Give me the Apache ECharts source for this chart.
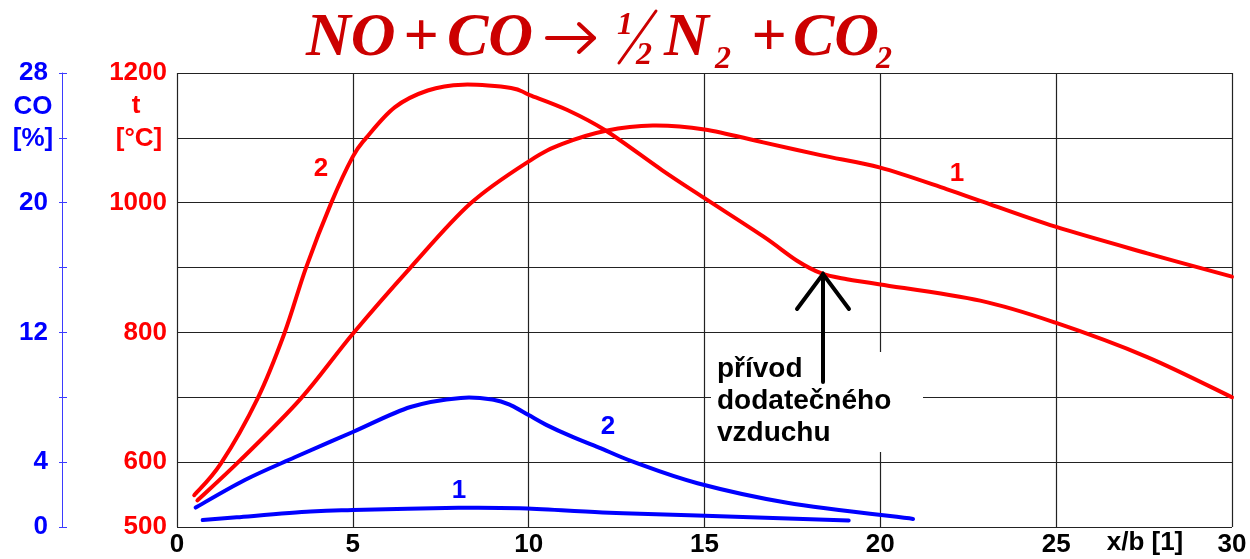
<!DOCTYPE html>
<html>
<head>
<meta charset="utf-8">
<title>NO + CO</title>
<script src="https://cdn.jsdelivr.net/npm/echarts@6/dist/echarts.min.js"></script>
<style>
  html, body { margin: 0; padding: 0; background: #fff; }
  #chart { width: 1250px; height: 559px; }
</style>
</head>
<body>
<div id="chart"></div>
<script>
// teplota t [°C] - krivka 1
const xT1 = [0.58, 1.8, 3.52, 5.0, 6.64, 8.35, 10.04, 10.98, 12.2, 13.53, 15.0, 16.67, 18.33, 20.0, 21.88, 22.84, 24.98, 27.59, 30.0];
const tT1 = [541, 603, 698, 798, 900, 999, 1065, 1091, 1111, 1119, 1113, 1093, 1073, 1054, 1021, 1003, 963, 922, 886];
// teplota t [°C] - krivka 2
const xT2 = [0.49, 1.25, 2.29, 3.05, 3.67, 4.38, 5.0, 5.38, 6.19, 7.13, 8.13, 9.5, 10.03, 11.1, 12.2, 13.8, 15.0, 16.67, 17.62, 18.33, 19.05, 20.0, 22.84, 24.98, 27.59, 30.0];
const tT2 = [549, 598, 698, 798, 900, 999, 1071, 1100, 1147, 1173, 1182, 1177, 1166, 1143, 1111, 1050, 1007, 948, 911, 891, 882, 874, 849, 815, 762, 700];
// CO [%] - krivka 1
const xCO1 = [0.73, 1.7, 3.8, 5.0, 8.0, 9.75, 12.1, 14.8, 19.1];
const co1 = [0.43, 0.6, 0.95, 1.05, 1.18, 1.15, 0.9, 0.71, 0.4];
// CO [%] - krivka 2
const xCO2 = [0.53, 1.93, 3.35, 5.0, 6.64, 8.07, 9.0, 9.5, 10.0, 10.5, 11.2, 12.0, 13.0, 14.8, 17.35, 20.93];
const co2 = [1.2, 2.9, 4.3, 5.86, 7.4, 7.96, 7.85, 7.5, 6.9, 6.3, 5.6, 4.9, 4.0, 2.7, 1.5, 0.5];

const tLabels = [500, 600, 800, 1000, 1200];
const coLabels = [0, 4, 12, 20, 28];

const RED = '#ff0000';
const BLUE = '#0000ff';
const TITLE_RED = '#cc0000';
const SANS = 'Liberation Sans';
const SERIF = 'Liberation Serif';

const pairs = (xs, ys) => xs.map((x, i) => [x, ys[i]]);

function txt(x, y, text, size, color, extra) {
  return {
    type: 'text',
    x: x,
    y: y,
    z: 20,
    style: Object.assign({
      text: text,
      fill: color,
      fontSize: size,
      fontWeight: 'bold',
      fontFamily: SANS,
      align: 'center',
      verticalAlign: 'middle',
    }, extra || {}),
  };
}

function title(x, y, text, size) {
  return txt(x, y, text, size, TITLE_RED, {
    fontFamily: SERIF,
    fontStyle: 'italic',
    align: 'left',
  });
}

function seg(x1, y1, x2, y2, color, w) {
  return {
    type: 'line',
    z: 21,
    shape: { x1: x1, y1: y1, x2: x2, y2: y2 },
    style: { stroke: color, lineWidth: w, lineCap: 'round' },
  };
}

// smooth curve through the points (catmull-rom -> bezier), points go through api.coord
function curve(name, xs, ys, color, axis) {
  const data = pairs(xs, ys);
  return {
    name: name,
    type: 'custom',
    yAxisIndex: axis,
    data: data,
    z: 5,
    renderItem(params, api) {
      if (params.dataIndex !== 0) {
        return null;
      }
      const p = data.map((d) => api.coord(d));
      const n = p.length;
      let d = `M${p[0][0]},${p[0][1]}`;
      for (let i = 0; i < n - 1; i++) {
        const p0 = p[Math.max(i - 1, 0)];
        const p1 = p[i];
        const p2 = p[i + 1];
        const p3 = p[Math.min(i + 2, n - 1)];
        const c1x = p1[0] + (p2[0] - p0[0]) / 6;
        const c1y = p1[1] + (p2[1] - p0[1]) / 6;
        const c2x = p2[0] - (p3[0] - p1[0]) / 6;
        const c2y = p2[1] - (p3[1] - p1[1]) / 6;
        d += ` C${c1x},${c1y} ${c2x},${c2y} ${p2[0]},${p2[1]}`;
      }
      return {
        type: 'path',
        shape: { pathData: d },
        style: { stroke: color, lineWidth: 4, fill: 'none', lineCap: 'round', lineJoin: 'round' },
      };
    },
  };
}

const coAxis = {
  type: 'value',
  min: 0,
  max: 28,
  interval: 4,
  position: 'left',
  offset: 115,
  splitLine: { show: false },
};

const chart = echarts.init(document.getElementById('chart'));
chart.setOption({
  animation: false,
  backgroundColor: '#fff',
  grid: { left: 177, right: 18, top: 73, bottom: 32 },
  xAxis: {
    type: 'value',
    min: 0,
    max: 30,
    interval: 5,
    axisLine: { show: false },
    axisTick: { show: false },
    splitLine: { show: true, lineStyle: { color: '#222', width: 1.2 } },
    axisLabel: {
      color: '#000', fontSize: 26, fontWeight: 'bold', fontFamily: SANS, margin: 5,
    },
  },
  yAxis: [
    {
      type: 'value',
      min: 500,
      max: 1200,
      interval: 100,
      position: 'left',
      axisLine: { show: false },
      axisTick: { show: false },
      splitLine: { show: true, lineStyle: { color: '#222', width: 1.2 } },
      axisLabel: {
        color: RED, fontSize: 26, fontWeight: 'bold', fontFamily: SANS, margin: 10,
        formatter: (v) => (tLabels.includes(v) ? String(v) : ''),
      },
    },
    Object.assign({}, coAxis, {
      axisLine: { show: true, lineStyle: { color: '#3b3bff', width: 1 } },
      axisTick: { show: true, length: 3, lineStyle: { color: '#3b3bff', width: 1 } },
      axisLabel: {
        color: BLUE, fontSize: 26, fontWeight: 'bold', fontFamily: SANS, margin: 14,
        formatter: (v) => (coLabels.includes(v) ? String(v) : ''),
      },
    }),
    // second copy only for the inner half of the ticks
    Object.assign({}, coAxis, {
      axisLine: { show: false },
      axisTick: { show: true, inside: true, length: 5, lineStyle: { color: '#3b3bff', width: 1 } },
      axisLabel: { show: false },
    }),
  ],
  series: [
    curve('t 1', xT1, tT1, RED, 0),
    curve('t 2', xT2, tT2, RED, 0),
    curve('CO 1', xCO1, co1, BLUE, 1),
    curve('CO 2', xCO2, co2, BLUE, 1),
  ],
  graphic: [
    // title  NO + CO -> 1/2 N2 + CO2
    title(306, 39, 'NO', 62),
    title(403, 39, '+', 62),
    title(447, 39, 'CO', 62),
    seg(547, 38, 593, 38, TITLE_RED, 4),
    seg(594, 38, 579, 24, TITLE_RED, 4),
    seg(594, 38, 579, 52, TITLE_RED, 4),
    title(617, 26, '1', 32),
    title(636, 56, '2', 32),
    seg(656, 11, 619, 63, TITLE_RED, 3),
    title(664, 39, 'N', 62),
    title(715, 60, '2', 32),
    title(751, 39, '+', 62),
    title(793, 39, 'CO', 62),
    title(876, 60, '2', 32),
    // axis names
    txt(33, 107, 'CO', 26, BLUE),
    txt(33, 139, '[%]', 26, BLUE),
    txt(136, 106, 't', 26, RED),
    txt(139, 139, '[°C]', 26, RED),
    txt(1145, 543, 'x/b [1]', 26, '#000'),
    // curve numbers
    txt(321, 169, '2', 26, RED),
    txt(957, 174, '1', 26, RED),
    txt(608, 427, '2', 26, BLUE),
    txt(459, 491, '1', 26, BLUE),
    // note box
    {
      type: 'rect', z: 15,
      shape: { x: 711, y: 352, width: 212, height: 100 },
      style: { fill: '#fff' },
    },
    seg(823, 274, 823, 382, '#000', 4),
    {
      type: 'polyline', z: 21,
      shape: { points: [[797, 309], [823, 274], [849, 309]] },
      style: { stroke: '#000', lineWidth: 4, lineCap: 'round', lineJoin: 'miter', fill: null },
    },
    txt(717, 353, 'přívod\ndodatečného\nvzduchu', 28, '#000', {
      align: 'left', verticalAlign: 'top', lineHeight: 32,
    }),
  ],
});
</script>
</body>
</html>
